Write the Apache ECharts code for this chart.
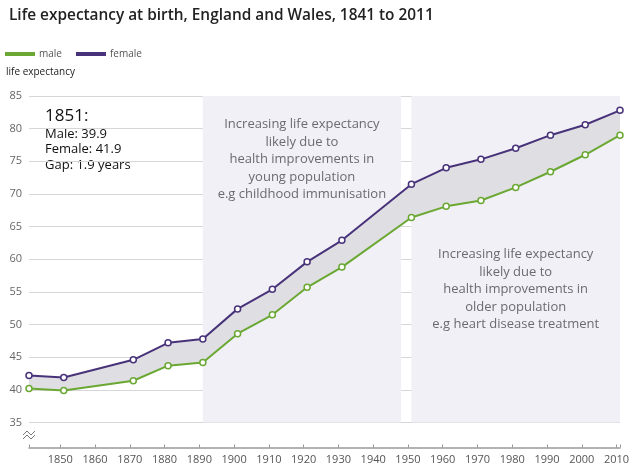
<!DOCTYPE html>
<html><head><meta charset="utf-8">
<script src="https://cdn.jsdelivr.net/npm/echarts@6/dist/echarts.min.js"></script>
<style>html,body{margin:0;padding:0;background:#fff}#c{width:640px;height:473px}</style>
</head><body><div id="c"></div>
<script>
const years  = [1841, 1851, 1871, 1881, 1891, 1901, 1911, 1921, 1931, 1951, 1961, 1971, 1981, 1991, 2001, 2011];
const male   = [40.2, 39.9, 41.4, 43.7, 44.2, 48.6, 51.5, 55.7, 58.8, 66.4, 68.1, 69.0, 71.0, 73.4, 76.0, 79.0];
const female = [42.2, 41.9, 44.6, 47.2, 47.8, 52.4, 55.4, 59.6, 62.9, 71.5, 74.0, 75.3, 77.0, 79.0, 80.6, 82.8];
const xTicks = [1850, 1860, 1870, 1880, 1890, 1900, 1910, 1920, 1930, 1940, 1950, 1960, 1970, 1980, 1990, 2000, 2010];
const periods = [[1891, 1948], [1951, 2011]];
const periodText = [
  'Increasing life expectancy\nlikely due to\nhealth improvements in\nyoung population\ne.g childhood immunisation',
  'Increasing life expectancy\nlikely due to\nhealth improvements in\nolder population\ne.g heart disease treatment'
];
const maleColor = '#6ba833', femaleColor = '#48327a';
const FONT = '"Open Sans", sans-serif';

const chart = echarts.init(document.getElementById('c'), null, {renderer: 'canvas'});
const pair = (arr) => years.map((y, i) => [y, arr[i]]);

chart.setOption({
  animation: false,
  textStyle: {fontFamily: FONT},
  title: {
    text: 'Life expectancy at birth, England and Wales, 1841 to 2011',
    left: 4, top: 3,
    textStyle: {fontFamily: FONT, fontSize: 15.4, fontWeight: 600, color: '#222'}
  },
  legend: {
    left: 5, top: 49, padding: 0, itemWidth: 28, itemHeight: 8, itemGap: 14,
    icon: 'path://M0,0L28,0L28,2L0,2Z',
    data: ['male', 'female'],
    textStyle: {fontFamily: FONT, fontSize: 10, color: '#555'}
  },
  grid: {left: 29, right: 20, top: 96, bottom: 50.5, containLabel: false},
  xAxis: {
    type: 'value', min: 1841, max: 2011, offset: 25,
    axisLine: {lineStyle: {color: '#999', width: 1.5}},
    axisTick: {show: true, length: 3, inside: true, lineStyle: {color: '#999'}, customValues: [1841].concat(xTicks, [2011])},
    axisLabel: {customValues: xTicks, formatter: v => String(v), color: '#555', fontSize: 11, margin: 7, fontFamily: FONT},
    splitLine: {show: false}
  },
  yAxis: {
    type: 'value', min: 35, max: 85, interval: 5,
    axisLine: {show: false}, axisTick: {show: false},
    axisLabel: {color: '#666', fontSize: 11, margin: 7, fontFamily: FONT},
    splitLine: {lineStyle: {color: '#d6d6d8', width: 1}}
  },
  graphic: [
    {type: 'text', left: 6, top: 67, style: {text: 'life expectancy', fontFamily: FONT, fontSize: 10, fill: '#222'}},
    {type: 'text', left: 45, top: 108, style: {
      text: '{a|1851:}\n{b|Male: 39.9}\n{b|Female: 41.9}\n{b|Gap: 1.9 years}',
      rich: {
        a: {fontFamily: FONT, fontSize: 17, fill: '#111', lineHeight: 19},
        b: {fontFamily: FONT, fontSize: 13, fill: '#111', lineHeight: 15.6}
      }
    }},
    {type: 'polyline', shape: {points: [[23, 435], [27, 431], [31, 435], [35, 431]]}, style: {stroke: '#777', lineWidth: 1, fill: null}},
    {type: 'polyline', shape: {points: [[23, 439], [27, 435], [31, 439], [35, 435]]}, style: {stroke: '#777', lineWidth: 1, fill: null}}
  ],
  series: [
    {
      name: 'band', type: 'custom', silent: true, z: 2,
      data: [0],
      renderItem: function (params, api) {
        const pts = [];
        for (let i = 0; i < years.length; i++) pts.push(api.coord([years[i], female[i]]));
        for (let i = years.length - 1; i >= 0; i--) pts.push(api.coord([years[i], male[i]]));
        return {type: 'polygon', shape: {points: pts}, style: {fill: '#dfdfe3'}};
      },
      markArea: {
        silent: true,
        itemStyle: {color: '#f0f0f6'},
        label: {color: '#6a6a70', fontSize: 13, fontFamily: FONT, lineHeight: 17.4, align: 'center'},
        data: [
          [{xAxis: periods[0][0], yAxis: 85, label: {position: ['50%', 20], formatter: periodText[0], verticalAlign: 'top'}}, {xAxis: periods[0][1], yAxis: 35}],
          [{xAxis: periods[1][0], yAxis: 85, label: {position: ['50%', 150], formatter: periodText[1], verticalAlign: 'top'}}, {xAxis: periods[1][1], yAxis: 35}]
        ]
      }
    },
    {
      name: 'male', type: 'line', data: pair(male), z: 5,
      symbol: 'circle', symbolSize: 6,
      itemStyle: {color: '#fff', borderColor: maleColor, borderWidth: 1.5},
      lineStyle: {color: maleColor, width: 2}
    },
    {
      name: 'female', type: 'line', data: pair(female), z: 6,
      symbol: 'circle', symbolSize: 6,
      itemStyle: {color: '#fff', borderColor: femaleColor, borderWidth: 1.5},
      lineStyle: {color: femaleColor, width: 2}
    }
  ]
});
</script></body></html>
